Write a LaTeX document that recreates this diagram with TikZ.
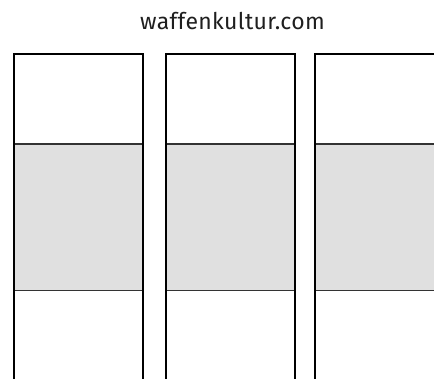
\documentclass[tikz,border=0pt]{standalone}
\usepackage{fontspec}
\setmainfont{Fira Sans}
\newfontfamily\titlefont[LetterSpace=1.5]{Fira Sans}
\definecolor{bandgray}{HTML}{E0E0E0}
\definecolor{sepgray}{HTML}{333333}
\begin{document}
\begin{tikzpicture}[x=1pt,y=-1pt,
  frame/.style={draw=black,line width=2pt},
  band/.style={fill=bandgray},
  sep/.style={draw=sepgray,line width=1.2pt}]
\useasboundingbox (0,0) rectangle (434,378);
\node[font=\titlefont\fontsize{23}{25}\selectfont,text=black!88,anchor=base,inner sep=0pt] (title) at (232.5,29) {waffenkultur.com};
% column 1
\fill[band] (14,144) rectangle (143,290.5);
\draw[sep] (14,144) -- (143,144);
\draw[sep] (14,290.5) -- (143,290.5);
\draw[frame] (14,380) -- (14,54) -- (143,54) -- (143,380);
% column 2
\fill[band] (166,144) rectangle (295,290.5);
\draw[sep] (166,144) -- (295,144);
\draw[sep] (166,290.5) -- (295,290.5);
\draw[frame] (166,380) -- (166,54) -- (295,54) -- (295,380);
% column 3
\fill[band] (315,144) rectangle (436,290.5);
\draw[sep] (315,144) -- (436,144);
\draw[sep] (315,290.5) -- (436,290.5);
\draw[frame] (315,380) -- (315,54) -- (436,54);
\end{tikzpicture}
\end{document}
